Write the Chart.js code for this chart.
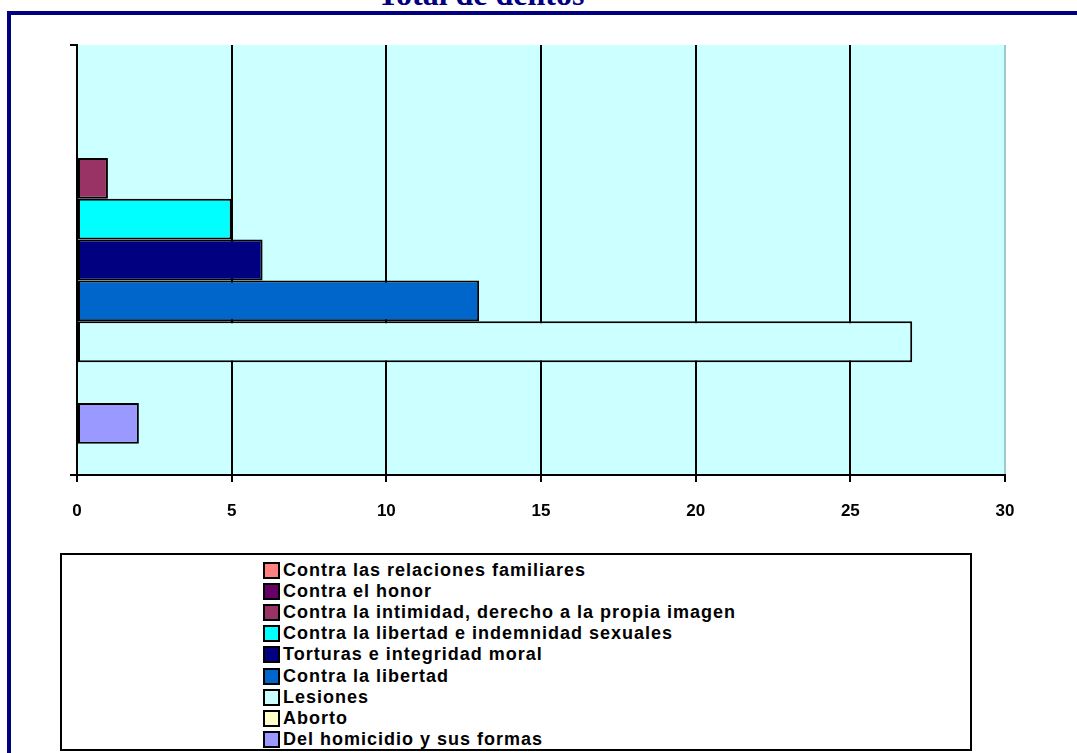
<!DOCTYPE html>
<html lang="es">
<head>
  <meta charset="UTF-8" />
  <title>Total de delitos</title>
  <script src="https://cdn.jsdelivr.net/npm/chart.js"></script>
  <style>
    html, body { margin:0; padding:0; width:1077px; height:753px; overflow:hidden; background:#fff; }
    #frame { position:absolute; left:7px; top:11px; width:1200px; height:900px; border-left:4px solid #000080; border-top:4px solid #000080; }
    #title { position:absolute; left:0; width:962px; top:-22px; text-align:center; font-family:'Liberation Serif',serif; font-weight:bold; font-size:32px; line-height:32px; color:#000080; white-space:nowrap; }
    #chart { position:absolute; left:0; top:0; }
    #legend { position:absolute; left:60px; top:553px; width:908px; height:194px; border:2px solid #000; background:#fff; }
    #legend ul { list-style:none; margin:0; padding:5px 0 0 201px; }
    #legend li { height:21.1px; display:flex; align-items:center; font-family:'Liberation Sans',Arial,sans-serif; font-weight:bold; font-size:18px; letter-spacing:1px; color:#000; white-space:nowrap; }
    #legend .sw { width:13px; height:13px; border:2px solid #000; margin-right:3px; flex:none; }
  </style>
</head>
<body>
  <div id="title">Total de delitos</div>
  <div id="frame"></div>
  <canvas id="chart" width="1077" height="540"></canvas>
  <div id="legend"></div>

  <script>
    const categories = [""];
    const seriesNames = [
      "Contra las relaciones familiares",
      "Contra el honor",
      "Contra la intimidad, derecho a la propia imagen",
      "Contra la libertad e indemnidad sexuales",
      "Torturas e integridad moral",
      "Contra la libertad",
      "Lesiones",
      "Aborto",
      "Del homicidio y sus formas"
    ];
    const seriesValues = [0, 0, 1, 5, 6, 13, 27, 0, 2];
    const seriesColors = ["#ff8080","#660066","#993366","#00ffff","#000080","#0066cc","#ccffff","#ffffcc","#9999ff"];
    const xTicks = [0, 5, 10, 15, 20, 25, 30];

    const plotBg = {
      id: 'plotBg',
      beforeDraw(chart) {
        const a = chart.chartArea, ctx = chart.ctx;
        ctx.save();
        ctx.fillStyle = '#ccffff';
        ctx.fillRect(a.left, a.top, a.right - a.left, a.bottom - a.top);
        ctx.restore();
      }
    };

    const chart = new Chart(document.getElementById("chart"), {
      type: 'bar',
      data: {
        labels: categories,
        datasets: seriesNames.map((name, i) => ({
          label: name,
          data: [seriesValues[i]],
          backgroundColor: seriesColors[i],
          borderColor: '#000',
          borderWidth: 2,
          borderSkipped: false,
          barPercentage: 1,
          categoryPercentage: 0.855
        }))
      },
      options: {
        indexAxis: 'y',
        responsive: false,
        animation: false,
        layout: { padding: { top: 45, left: 67, right: 72, bottom: 0 } },
        plugins: { legend: { display: false }, tooltip: { enabled: false } },
        scales: {
          x: {
            min: 0, max: 30,
            afterBuildTicks: s => { s.ticks = xTicks.map(v => ({ value: v })); },
            afterFit: s => { s.height = 65; },
            grid: {
              color: c => c.tick && c.tick.value === 30 ? '#99cccc' : '#000',
              tickColor: '#000',
              lineWidth: 2,
              tickLength: 7
            },
            border: { color: '#000', width: 2 },
            ticks: {
              padding: 19,
              color: '#000',
              font: { family: "'Liberation Sans', Arial, sans-serif", weight: 'bold', size: 17 }
            }
          },
          y: {
            afterFit: s => { s.width = 10; },
            grid: { offset: true, drawOnChartArea: false, color: '#000', lineWidth: 2, tickLength: 7 },
            border: { color: '#000', width: 2 },
            ticks: { display: true }
          }
        }
      },
      plugins: [plotBg]
    });

    // legend built from the chart's datasets
    const ul = document.createElement('ul');
    chart.data.datasets.forEach(ds => {
      const li = document.createElement('li');
      const sw = document.createElement('span');
      sw.className = 'sw';
      sw.style.background = ds.backgroundColor;
      li.appendChild(sw);
      li.appendChild(document.createTextNode(ds.label));
      ul.appendChild(li);
    });
    document.getElementById('legend').appendChild(ul);
  </script>
</body>
</html>
